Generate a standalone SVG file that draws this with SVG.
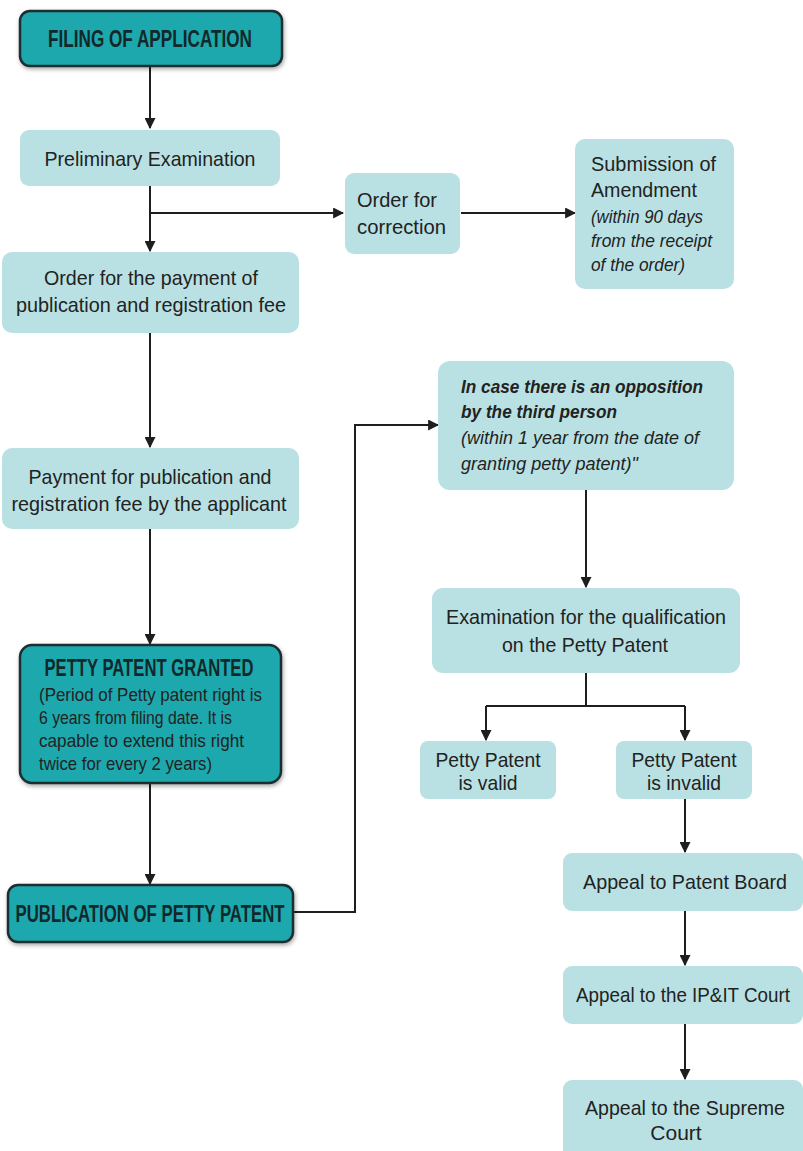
<svg xmlns="http://www.w3.org/2000/svg" width="803" height="1151" viewBox="0 0 803 1151">
<defs>
<marker id="ah" viewBox="0 0 10 10" refX="9" refY="5" markerWidth="11" markerHeight="11" markerUnits="userSpaceOnUse" orient="auto"><path d="M0,0 L10,5 L0,10 z" fill="#1e1e1e"/></marker>
<filter id="sh" x="-10%" y="-10%" width="120%" height="130%"><feDropShadow dx="1" dy="2" stdDeviation="2" flood-color="#000" flood-opacity="0.35"/></filter>
</defs>
<style>
.dark{fill:#1ba8ad;stroke:#1c2e30;stroke-width:2.5;filter:url(#sh)}
.light{fill:#b9e1e3}
text{font-family:"Liberation Sans",Arial,sans-serif;fill:#222;font-size:21px;text-anchor:middle}
.h{font-weight:bold;font-size:23px;fill:#13282a}
.it{font-style:italic}
.l{text-anchor:start}
.c{fill:none;stroke:#1e1e1e;stroke-width:2}
</style>
<rect width="803" height="1151" fill="#fff"/>
<g id="connectors">
<path class="c" d="M150,66 V128" marker-end="url(#ah)"/>
<path class="c" d="M150,186 V251" marker-end="url(#ah)"/>
<path class="c" d="M150,213 H343" marker-end="url(#ah)"/>
<path class="c" d="M461,213 H575" marker-end="url(#ah)"/>
<path class="c" d="M150,333 V447" marker-end="url(#ah)"/>
<path class="c" d="M150,529 V644" marker-end="url(#ah)"/>
<path class="c" d="M150,783 V884" marker-end="url(#ah)"/>
<path class="c" d="M294,912 H355 V425 H438" marker-end="url(#ah)"/>
<path class="c" d="M586,490 V587" marker-end="url(#ah)"/>
<path class="c" d="M586,673 V706 M486,706 H685"/>
<path class="c" d="M486,706 V740" marker-end="url(#ah)"/>
<path class="c" d="M685,706 V740" marker-end="url(#ah)"/>
<path class="c" d="M685,799 V852" marker-end="url(#ah)"/>
<path class="c" d="M685,911 V965" marker-end="url(#ah)"/>
<path class="c" d="M685,1024 V1079" marker-end="url(#ah)"/>
</g>
<g id="filing"><rect class="dark" x="20" y="11" width="262" height="55" rx="10"/><text class="h" x="150" y="47" textLength="204" lengthAdjust="spacingAndGlyphs">FILING OF APPLICATION</text></g>
<g id="prelim"><rect class="light" x="20" y="130" width="260" height="56" rx="9"/><text x="150" y="166" textLength="211" lengthAdjust="spacingAndGlyphs">Preliminary Examination</text></g>
<g id="correction"><rect class="light" x="345" y="173" width="115" height="81" rx="9"/><text class="l" x="357" y="207" textLength="80" lengthAdjust="spacingAndGlyphs">Order for</text><text class="l" x="357" y="234" textLength="89" lengthAdjust="spacingAndGlyphs">correction</text></g>
<g id="amendment"><rect class="light" x="575" y="139" width="159" height="150" rx="10"/><text class="l" x="591" y="171" textLength="125" lengthAdjust="spacingAndGlyphs">Submission of</text><text class="l" x="591" y="197" textLength="106" lengthAdjust="spacingAndGlyphs">Amendment</text><text class="l it" x="591" y="223" style="font-size:18px" textLength="112" lengthAdjust="spacingAndGlyphs">(within 90 days</text><text class="l it" x="591" y="247" style="font-size:18px" textLength="121" lengthAdjust="spacingAndGlyphs">from the receipt</text><text class="l it" x="591" y="271" style="font-size:18px" textLength="94" lengthAdjust="spacingAndGlyphs">of the order)</text></g>
<g id="orderpay"><rect class="light" x="2" y="252" width="297" height="81" rx="10"/><text x="151" y="285" textLength="214" lengthAdjust="spacingAndGlyphs">Order for the payment of</text><text x="151" y="312" textLength="270" lengthAdjust="spacingAndGlyphs">publication and registration fee</text></g>
<g id="payment"><rect class="light" x="2" y="448" width="297" height="81" rx="10"/><text x="150" y="484" textLength="243" lengthAdjust="spacingAndGlyphs">Payment for publication and</text><text x="149" y="511" textLength="275" lengthAdjust="spacingAndGlyphs">registration fee by the applicant</text></g>
<g id="granted"><rect class="dark" x="20" y="645" width="261" height="138" rx="12"/><text class="h" x="149" y="676" textLength="209" lengthAdjust="spacingAndGlyphs">PETTY PATENT GRANTED</text><text class="l" x="39" y="701" style="font-size:19px" textLength="223" lengthAdjust="spacingAndGlyphs">(Period of Petty patent right is</text><text class="l" x="39" y="724" style="font-size:19px" textLength="193" lengthAdjust="spacingAndGlyphs">6 years from filing date. It is</text><text class="l" x="39" y="747" style="font-size:19px" textLength="205" lengthAdjust="spacingAndGlyphs">capable to extend this right</text><text class="l" x="39" y="770" style="font-size:19px" textLength="173" lengthAdjust="spacingAndGlyphs">twice for every 2 years)</text></g>
<g id="publication"><rect class="dark" x="8" y="885" width="285" height="57" rx="10"/><text class="h" x="150" y="922" textLength="269" lengthAdjust="spacingAndGlyphs">PUBLICATION OF PETTY PATENT</text></g>
<g id="opposition"><rect class="light" x="438" y="361" width="296" height="129" rx="12"/><text class="l it" x="461" y="393" style="font-weight:bold;font-size:19px" textLength="242" lengthAdjust="spacingAndGlyphs">In case there is an opposition</text><text class="l it" x="461" y="418" style="font-weight:bold;font-size:19px" textLength="156" lengthAdjust="spacingAndGlyphs">by the third person</text><text class="l it" x="461" y="444" style="font-size:19px" textLength="238" lengthAdjust="spacingAndGlyphs">(within 1 year from the date of</text><text class="l it" x="461" y="470" style="font-size:19px" textLength="177" lengthAdjust="spacingAndGlyphs">granting petty patent)"</text></g>
<g id="exam"><rect class="light" x="432" y="588" width="308" height="85" rx="11"/><text x="586" y="624" textLength="280" lengthAdjust="spacingAndGlyphs">Examination for the qualification</text><text x="585" y="652" textLength="166" lengthAdjust="spacingAndGlyphs">on the Petty Patent</text></g>
<g id="valid"><rect class="light" x="420" y="741" width="136" height="58" rx="8"/><text x="488" y="767" textLength="105" lengthAdjust="spacingAndGlyphs">Petty Patent</text><text x="488" y="790" textLength="59" lengthAdjust="spacingAndGlyphs">is valid</text></g>
<g id="invalid"><rect class="light" x="616" y="741" width="136" height="58" rx="8"/><text x="684" y="767" textLength="105" lengthAdjust="spacingAndGlyphs">Petty Patent</text><text x="684" y="790" textLength="74" lengthAdjust="spacingAndGlyphs">is invalid</text></g>
<g id="board"><rect class="light" x="563" y="853" width="240" height="58" rx="9"/><text x="685" y="889" textLength="204" lengthAdjust="spacingAndGlyphs">Appeal to Patent Board</text></g>
<g id="ipit"><rect class="light" x="563" y="966" width="240" height="58" rx="9"/><text x="683" y="1002" textLength="214" lengthAdjust="spacingAndGlyphs">Appeal to the IP&amp;IT Court</text></g>
<g id="supreme"><rect class="light" x="563" y="1080" width="240" height="80" rx="9"/><text x="685" y="1115" textLength="200" lengthAdjust="spacingAndGlyphs">Appeal to the Supreme</text><text x="676" y="1140">Court</text></g>
</svg>
